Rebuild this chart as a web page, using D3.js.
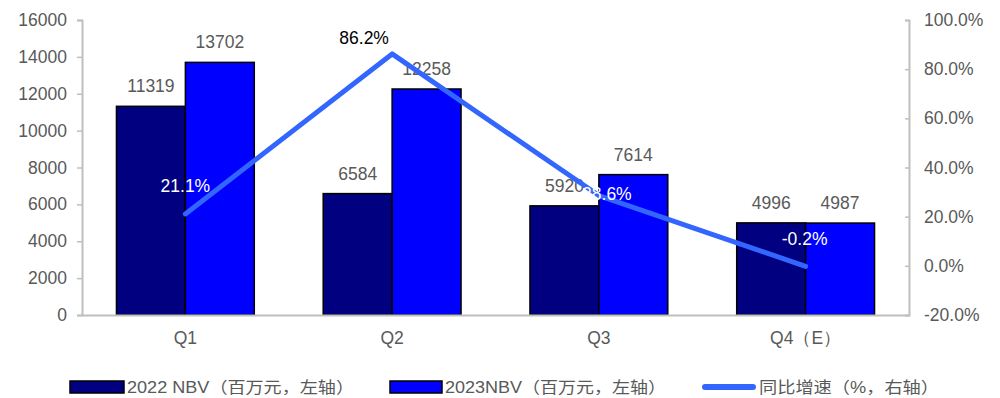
<!DOCTYPE html>
<html>
<head>
<meta charset="utf-8">
<script src="https://cdn.jsdelivr.net/npm/d3@7/dist/d3.min.js"></script>
<style>
  html, body { margin: 0; padding: 0; background: #fff; }
  svg { display: block; font-family: "Liberation Sans", Arial, "Noto Sans CJK SC", sans-serif; }
</style>
</head>
<body>
<svg id="chart" width="1000" height="398"></svg>
<script>
// Quarterly NBV (million yuan) and year-on-year growth
const categories = ["Q1", "Q2", "Q3", "Q4（E）"];
const nbv2022 = [11319, 6584, 5920, 4996];
const nbv2023 = [13702, 12258, 7614, 4987];
const growth = [21.1, 86.2, 28.6, -0.2];
const leftTicks = [0, 2000, 4000, 6000, 8000, 10000, 12000, 14000, 16000];
const rightTicks = [-20, 0, 20, 40, 60, 80, 100];
const seriesNames = ["2022 NBV（百万元，左轴）", "2023NBV（百万元，左轴）", "同比增速（%，右轴）"];

const svg = d3.select("#chart");
const plot = { left: 82, right: 909, top: 20, bottom: 315 };
const axisColor = "#BFBFBF", textColor = "#595959";
const colors = ["#000080", "#0000FF", "#3366FF"];

const x = d3.scaleBand().domain(categories).range([plot.left, plot.right]).padding(0);
const bw = x.bandwidth();
const xs = d3.scaleBand().domain([0, 1]).range([bw / 6, bw * 5 / 6]).padding(0);
const yL = d3.scaleLinear().domain([0, 16000]).range([plot.bottom, plot.top]);
const yR = d3.scaleLinear().domain([-20, 100]).range([plot.bottom, plot.top]);

// left axis
const gL = svg.append("g").attr("transform", `translate(${plot.left},0)`)
  .call(d3.axisLeft(yL).tickValues(leftTicks).tickSize(5).tickPadding(10).tickFormat(d3.format("d")));
// right axis
const gR = svg.append("g").attr("transform", `translate(${plot.right},0)`)
  .call(d3.axisRight(yR).tickValues(rightTicks).tickSize(-4).tickPadding(15).tickFormat(d => d.toFixed(1) + "%"));
[gL, gR].forEach(g => {
  g.select(".domain").attr("stroke", axisColor).attr("stroke-width", 2);
  g.selectAll(".tick line").attr("stroke", axisColor).attr("stroke-width", 1.5);
  g.selectAll(".tick text").attr("fill", textColor).style("font-size", "17.5px");
});

// bars
const series = [nbv2022, nbv2023];
series.forEach((vals, si) => {
  svg.append("g").selectAll("rect").data(vals).join("rect")
    .attr("x", (d, i) => x(categories[i]) + xs(si))
    .attr("y", d => yL(d))
    .attr("width", xs.bandwidth())
    .attr("height", d => yL(0) - yL(d))
    .attr("fill", colors[si])
    .attr("stroke", "#000")
    .attr("stroke-width", 1.5);
  svg.append("g").selectAll("text").data(vals).join("text")
    .attr("x", (d, i) => x(categories[i]) + xs(si) + xs.bandwidth() / 2)
    .attr("y", d => yL(d) - 14)
    .attr("text-anchor", "middle")
    .attr("fill", textColor)
    .style("font-size", "17.5px")
    .text(d => d);
});

// bottom axis
const gX = svg.append("g").attr("transform", `translate(0,${plot.bottom})`)
  .call(d3.axisBottom(x).tickSize(0).tickPadding(17));
gX.select(".domain").attr("stroke", axisColor).attr("stroke-width", 2);
gX.selectAll(".tick text").attr("fill", textColor).style("font-size", "17.5px");

// growth line
const cx = (d, i) => x(categories[i]) + bw / 2;
svg.append("path").datum(growth)
  .attr("d", d3.line().x(cx).y(d => yR(d)))
  .attr("fill", "none")
  .attr("stroke", colors[2])
  .attr("stroke-width", 5)
  .attr("stroke-linecap", "round")
  .attr("stroke-linejoin", "round");

// growth labels, each nudged off its point; white over bars, dark on the background
const labelNudge = [[0, -22], [-28, -10], [8, 4], [-1, -21]];
svg.append("g").selectAll("text").data(growth).join("text")
  .attr("x", (d, i) => cx(d, i) + labelNudge[i][0])
  .attr("y", (d, i) => yR(d) + labelNudge[i][1])
  .attr("text-anchor", "middle")
  .attr("fill", (d, i) => i === 1 ? "#000" : "#fff")
  .style("font-size", "17.5px")
  .text(d => d.toFixed(1) + "%");

// legend
const legend = svg.append("g").attr("transform", "translate(0,387)");
const legendItems = [
  { x: 70, w: 54, type: "rect", textW: 227 },
  { x: 390, w: 52, type: "rect", textW: 221 },
  { x: 702, w: 54, type: "line", textW: 180 }
];
legendItems.forEach((it, i) => {
  if (it.type === "rect") {
    legend.append("rect").attr("x", it.x).attr("y", -6).attr("width", it.w).attr("height", 12)
      .attr("fill", colors[i]).attr("stroke", "#000").attr("stroke-width", 1.5);
  } else {
    legend.append("line").attr("x1", it.x + 3).attr("x2", it.x + it.w - 3).attr("y1", 0).attr("y2", 0)
      .attr("stroke", colors[2]).attr("stroke-width", 6).attr("stroke-linecap", "round");
  }
  legend.append("text")
    .attr("x", it.x + it.w + 3).attr("y", 6)
    .attr("fill", textColor)
    .style("font-size", "16px")
    .attr("textLength", it.textW)
    .attr("lengthAdjust", "spacingAndGlyphs")
    .text(seriesNames[i]);
});
</script>
</body>
</html>
